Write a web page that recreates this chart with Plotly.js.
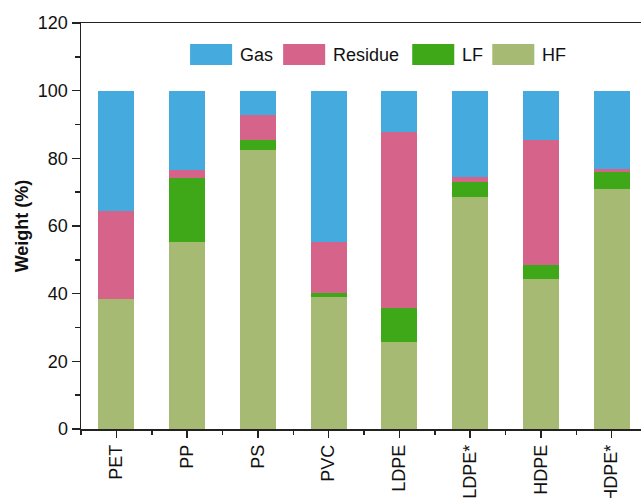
<!DOCTYPE html>
<html>
<head>
<meta charset="utf-8">
<script src="https://cdn.plot.ly/plotly-3.0.1.min.js"></script>
<style>
  html, body { margin: 0; padding: 0; overflow: hidden; background: #fff; }
  #chart { width: 660px; height: 498px; }
</style>
</head>
<body>
<div id="chart"></div>
<script>
// Product distribution (wt%) per plastic feedstock
const categories = ['PET', 'PP', 'PS', 'PVC', 'LDPE', 'LDPE*', 'HDPE', 'HDPE*'];
const hf      = [38.3, 55.2, 82.4, 39.0, 25.6, 68.6, 44.2, 70.9];
const lf      = [0.0, 19.1, 2.9, 1.3, 10.3, 4.5, 4.2, 5.1];
const residue = [26.1, 2.3, 7.5, 15.1, 52.0, 1.5, 37.0, 0.9];
const gas     = [35.6, 23.4, 7.2, 44.6, 12.1, 25.4, 14.6, 23.1];

const seriesNames = ['Gas', 'Residue', 'LF', 'HF'];
const colors = { Gas: '#45AADD', Residue: '#D5638A', LF: '#3EA818', HF: '#A6BA73' };

const idx = categories.map((c, i) => i);
const font = 'Liberation Sans, Arial, Helvetica, sans-serif';

function barTrace(name, values) {
  return {
    type: 'bar', name: name, x: idx, y: values,
    marker: { color: colors[name], line: { width: 0 } },
    showlegend: false, hoverinfo: 'x+y+name'
  };
}

// stacked bottom-up: HF, LF, Residue, Gas
const data = [
  barTrace('HF', hf),
  barTrace('LF', lf),
  barTrace('Residue', residue),
  barTrace('Gas', gas)
];

// Legend drawn as wide swatches across the top of the plot
const plotL = 81, plotW = 565.6, plotT = 23, plotH = 406;
const swatchLeft = [190, 283, 412, 492];
const swatchW = 42, swatchTop = 44, swatchH = 21, textGap = 6;
const px2x = p => (p - plotL) / plotW;
const px2y = p => (plotT + plotH - p) / plotH;

const shapes = [], annotations = [];
seriesNames.forEach((name, i) => {
  const x0 = swatchLeft[i];
  shapes.push({
    type: 'rect', xref: 'paper', yref: 'paper',
    x0: px2x(x0), x1: px2x(x0 + swatchW),
    y0: px2y(swatchTop + swatchH), y1: px2y(swatchTop),
    fillcolor: colors[name], line: { width: 0 }
  });
  annotations.push({
    xref: 'paper', yref: 'paper',
    x: px2x(x0 + swatchW + textGap), y: px2y(swatchTop + swatchH / 2),
    xanchor: 'left', yanchor: 'middle', showarrow: false,
    text: name, font: { family: font, size: 18, color: '#111' }
  });
});

const layout = {
  width: 660, height: 498,
  margin: { l: plotL, r: 660 - plotL - plotW, t: plotT, b: 498 - plotT - plotH },
  paper_bgcolor: '#fff', plot_bgcolor: '#fff',
  barmode: 'stack', bargap: 0.49,
  font: { family: font, size: 18, color: '#111' },
  xaxis: {
    range: [-0.5, 7.5], tickmode: 'array', tickvals: idx, ticktext: categories,
    tickangle: -90, ticks: 'outside', ticklen: 7, tickwidth: 1.5, tickcolor: '#222',
    minor: { tickmode: 'linear', tick0: 0.5, dtick: 1, ticks: 'outside', ticklen: 4, tickwidth: 1.5, tickcolor: '#222' },
    showline: true, linecolor: '#222', linewidth: 1.5, mirror: true,
    showgrid: false, zeroline: false,
    tickfont: { family: font, size: 18, color: '#111' }
  },
  yaxis: {
    range: [0, 120], dtick: 20, ticks: 'outside', ticklen: 8, tickwidth: 1.5, tickcolor: '#222',
    minor: { dtick: 10, ticks: 'outside', ticklen: 5, tickwidth: 1.5, tickcolor: '#222' },
    showline: true, linecolor: '#222', linewidth: 1.5, mirror: true,
    showgrid: false, zeroline: false,
    tickfont: { family: font, size: 18, color: '#111' },
    title: { text: '<b>Weight (%)</b>', font: { family: font, size: 18, color: '#111' }, standoff: 4 }
  },
  shapes: shapes,
  annotations: annotations
};

Plotly.newPlot('chart', data, layout, { displayModeBar: false, staticPlot: true });
</script>
</body>
</html>
